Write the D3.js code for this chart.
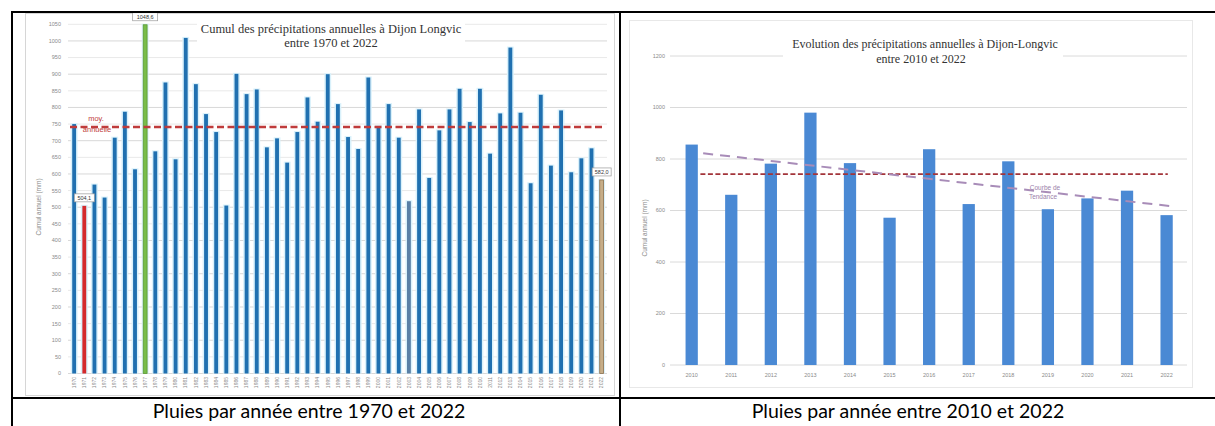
<!DOCTYPE html>
<html>
<head>
<meta charset="utf-8">
<script src="https://cdn.jsdelivr.net/npm/d3@7"></script>
<style>
  body { margin: 0; background: #fff; }
  svg { display: block; }
</style>
</head>
<body>
<script>
// Cumul annuel des précipitations à Dijon-Longvic (mm)
const annees = d3.range(1970, 2023);
const cumuls = [
  750, 504.1, 568, 529, 709, 787, 614, 1048.6, 668, 875,
  644, 1009, 870, 780, 726, 505, 901, 840, 854, 680,
  707, 634, 726, 830, 757, 900, 810, 711, 675, 890,
  744, 810, 709, 518, 794, 588, 731, 794, 856, 756,
  856, 661, 782, 980, 784, 572, 838, 625, 791, 605,
  647, 677, 582.0
];
const moyenneAnnuelle = 741;

// Période récente 2010-2022
const anneesRecentes = annees.filter(a => a >= 2010);
const cumulsRecents = cumuls.filter((v, i) => annees[i] >= 2010);

const ticksGauche = d3.range(0, 1051, 50);
const ticksDroite = d3.range(0, 1201, 200);

// Années mises en évidence
const couleursSpeciales = { 1971: "#d42a2c", 1977: "#78bd4a", 2003: "#5a80a6", 2022: "#c6ad88" };
const contoursSpeciaux = { 1977: "#5c9a34", 2022: "#8a6f4e" };
const etiquettes = [
  { annee: 1971, texte: "504,1", largeur: 20 },
  { annee: 1977, texte: "1048,6", largeur: 25 },
  { annee: 2022, texte: "582,0", largeur: 19 }
];

const svg = d3.select("body").append("svg")
  .attr("width", 1215).attr("height", 426)
  .style("font-family", "'Liberation Sans', Arial, sans-serif");

const serif = "'Liberation Serif', 'Times New Roman', serif";

/* ---------- Graphique de gauche : 1970-2022 ---------- */
const g1 = svg.append("g");
g1.append("rect").attr("x", 25.5).attr("y", 13.5).attr("width", 589).attr("height", 382)
  .attr("fill", "#fff").attr("stroke", "#d6d6d6");

const x1 = d3.scaleBand().domain(annees).range([67.15, 608.65]).paddingInner(0.62).paddingOuter(0.5);
const y1 = d3.scaleLinear().domain([0, 1050]).range([373.5, 24.3]);

g1.append("g").selectAll("line").data(ticksGauche).join("line")
  .attr("x1", 68).attr("x2", 607)
  .attr("y1", d => y1(d)).attr("y2", d => y1(d))
  .attr("stroke", d => d % 100 === 0 ? "#d8d8d8" : "#e9e9e9").attr("stroke-width", 1);

g1.append("g").selectAll("text").data(ticksGauche).join("text")
  .attr("x", 61).attr("y", d => y1(d)).attr("dy", "0.35em")
  .attr("text-anchor", "end").attr("font-size", 5.5).attr("fill", "#8a8a8a")
  .text(d => d);

g1.append("text")
  .attr("transform", "translate(39,207) rotate(-90)")
  .attr("text-anchor", "middle").attr("dy", "0.35em")
  .attr("font-size", 6.5).attr("fill", "#8a8a8a")
  .text("Cumul annuel (mm)");

// halo clair autour des barres
g1.append("g").selectAll("rect").data(annees).join("rect")
  .attr("x", d => x1(d) - 1.5).attr("width", x1.bandwidth() + 3)
  .attr("y", (d, i) => y1(cumuls[i]) - 1).attr("height", (d, i) => y1(0) - y1(cumuls[i]) + 1)
  .attr("fill", "#d9f1fb");

g1.append("g").selectAll("rect").data(annees).join("rect")
  .attr("x", d => x1(d)).attr("width", x1.bandwidth())
  .attr("y", (d, i) => y1(cumuls[i])).attr("height", (d, i) => y1(0) - y1(cumuls[i]))
  .attr("fill", d => couleursSpeciales[d] || "#2070b0")
  .attr("stroke", d => contoursSpeciaux[d] || "none").attr("stroke-width", 0.8);

g1.append("g").selectAll("text").data(annees).join("text")
  .attr("transform", d => `translate(${x1(d) + x1.bandwidth() / 2},377) rotate(-90)`)
  .attr("text-anchor", "end").attr("dy", "0.35em")
  .attr("font-size", 5).attr("fill", "#8a8a8a")
  .text(d => d);

// ligne de la moyenne annuelle
g1.append("line")
  .attr("x1", 70).attr("x2", 603)
  .attr("y1", y1(moyenneAnnuelle)).attr("y2", y1(moyenneAnnuelle))
  .attr("stroke", "#bf3b3b").attr("stroke-width", 2.4).attr("stroke-dasharray", "7,3.5");
g1.append("text").attr("x", 96).attr("y", 121).attr("text-anchor", "middle")
  .attr("font-size", 7.5).attr("fill", "#c04040").text("moy.");
g1.append("text").attr("x", 97).attr("y", 132).attr("text-anchor", "middle")
  .attr("font-size", 7.5).attr("fill", "#c04040").text("annuelle");

// étiquettes de valeurs
const lab = g1.append("g").selectAll("g").data(etiquettes).join("g")
  .attr("transform", d => {
    const v = cumuls[annees.indexOf(d.annee)];
    return `translate(${x1(d.annee) + x1.bandwidth() / 2},${y1(v) - 4})`;
  });
lab.append("rect").attr("x", d => -d.largeur / 2).attr("y", -8).attr("width", d => d.largeur).attr("height", 8)
  .attr("fill", "#fff").attr("stroke", "#9a9a9a").attr("stroke-width", 0.7);
lab.append("text").attr("y", -4).attr("dy", "0.35em").attr("text-anchor", "middle")
  .attr("font-size", 5.5).attr("fill", "#333").text(d => d.texte);

// titre
g1.append("rect").attr("x", 197).attr("y", 19).attr("width", 268).attr("height", 31).attr("fill", "#fff");
g1.append("text").attr("x", 331).attr("y", 29).attr("dy", "0.35em").attr("text-anchor", "middle")
  .attr("font-family", serif).attr("font-size", 12.5).attr("fill", "#333")
  .text("Cumul des précipitations annuelles à Dijon Longvic");
g1.append("text").attr("x", 331).attr("y", 43).attr("dy", "0.35em").attr("text-anchor", "middle")
  .attr("font-family", serif).attr("font-size", 12.5).attr("fill", "#333")
  .text("entre 1970 et 2022");

/* ---------- Graphique de droite : 2010-2022 ---------- */
const g2 = svg.append("g");
g2.append("rect").attr("x", 629.5).attr("y", 20.5).attr("width", 563).attr("height", 367)
  .attr("fill", "#fff").attr("stroke", "#e8e8e8");

const x2 = d3.scaleBand().domain(anneesRecentes).range([670, 1188.3]).paddingInner(0.69).paddingOuter(0.393);
const y2 = d3.scaleLinear().domain([0, 1200]).range([365, 56]);

g2.append("g").selectAll("line").data(ticksDroite).join("line")
  .attr("x1", 670).attr("x2", 1187)
  .attr("y1", d => y2(d)).attr("y2", d => y2(d))
  .attr("stroke", "#dadada").attr("stroke-width", 1);

g2.append("g").selectAll("text").data(ticksDroite).join("text")
  .attr("x", 665).attr("y", d => y2(d)).attr("dy", "0.35em")
  .attr("text-anchor", "end").attr("font-size", 5.5).attr("fill", "#8a8a8a")
  .text(d => d);

g2.append("text")
  .attr("transform", "translate(645,228) rotate(-90)")
  .attr("text-anchor", "middle").attr("dy", "0.35em")
  .attr("font-size", 6.5).attr("fill", "#8a8a8a")
  .text("Cumul annuel (mm)");

g2.append("g").selectAll("rect").data(anneesRecentes).join("rect")
  .attr("x", d => x2(d)).attr("width", x2.bandwidth())
  .attr("y", (d, i) => y2(cumulsRecents[i])).attr("height", (d, i) => y2(0) - y2(cumulsRecents[i]))
  .attr("fill", "#4a89d4");

g2.append("g").selectAll("text").data(anneesRecentes).join("text")
  .attr("x", d => x2(d) + x2.bandwidth() / 2).attr("y", 375).attr("dy", "0.35em")
  .attr("text-anchor", "middle").attr("font-size", 5.5).attr("fill", "#8a8a8a")
  .text(d => d);

// position horizontale d'un indice (éventuellement fractionnaire) de la série
const xIndice = i => x2(anneesRecentes[0]) + x2.bandwidth() / 2 + i * x2.step();

// moyenne annuelle
g2.append("line")
  .attr("x1", xIndice(0.22)).attr("x2", xIndice(12.03))
  .attr("y1", y2(moyenneAnnuelle)).attr("y2", y2(moyenneAnnuelle))
  .attr("stroke", "#a3343a").attr("stroke-width", 1.8).attr("stroke-dasharray", "5,2.5");

// courbe de tendance (régression linéaire)
const idx = cumulsRecents.map((v, i) => i);
const mx = d3.mean(idx), my = d3.mean(cumulsRecents);
const pente = d3.sum(idx, i => (i - mx) * (cumulsRecents[i] - my)) / d3.sum(idx, i => (i - mx) ** 2);
const tendance = i => my + pente * (i - mx);
const bornes = [0.29, 12.13];
g2.append("line")
  .attr("x1", xIndice(bornes[0])).attr("x2", xIndice(bornes[1]))
  .attr("y1", y2(tendance(bornes[0]))).attr("y2", y2(tendance(bornes[1])))
  .attr("stroke", "#a88cb8").attr("stroke-width", 2).attr("stroke-dasharray", "10,7");
g2.append("text").attr("x", 1045).attr("y", 188).attr("dy", "0.35em").attr("text-anchor", "middle")
  .attr("font-size", 6.5).attr("fill", "#9a80aa").text("Courbe de");
g2.append("text").attr("x", 1043).attr("y", 197).attr("dy", "0.35em").attr("text-anchor", "middle")
  .attr("font-size", 6.5).attr("fill", "#9a80aa").text("Tendance");

// titre
g2.append("rect").attr("x", 783).attr("y", 36).attr("width", 280).attr("height", 32).attr("fill", "#fff");
g2.append("text").attr("x", 925).attr("y", 44).attr("dy", "0.35em").attr("text-anchor", "middle")
  .attr("font-family", serif).attr("font-size", 12).attr("fill", "#333")
  .text("Evolution des précipitations annuelles à Dijon-Longvic");
g2.append("text").attr("x", 921).attr("y", 59).attr("dy", "0.35em").attr("text-anchor", "middle")
  .attr("font-family", serif).attr("font-size", 12).attr("fill", "#333")
  .text("entre 2010 et 2022");

/* ---------- Tableau et légendes ---------- */
const bord = svg.append("g").attr("stroke", "#000").attr("stroke-width", 2);
bord.append("line").attr("x1", 11).attr("x2", 1215).attr("y1", 12).attr("y2", 12);
bord.append("line").attr("x1", 12).attr("x2", 12).attr("y1", 11).attr("y2", 426);
bord.append("line").attr("x1", 620).attr("x2", 620).attr("y1", 11).attr("y2", 426);
bord.append("line").attr("x1", 11).attr("x2", 1215).attr("y1", 398).attr("y2", 398);

svg.append("text").attr("x", 309).attr("y", 418).attr("text-anchor", "middle")
  .attr("font-family", "Lato, 'Open Sans', sans-serif").attr("font-size", 19.5).attr("fill", "#000")
  .text("Pluies par année entre 1970 et 2022");
svg.append("text").attr("x", 908).attr("y", 418).attr("text-anchor", "middle")
  .attr("font-family", "Lato, 'Open Sans', sans-serif").attr("font-size", 19.5).attr("fill", "#000")
  .text("Pluies par année entre 2010 et 2022");
</script>
</body>
</html>
